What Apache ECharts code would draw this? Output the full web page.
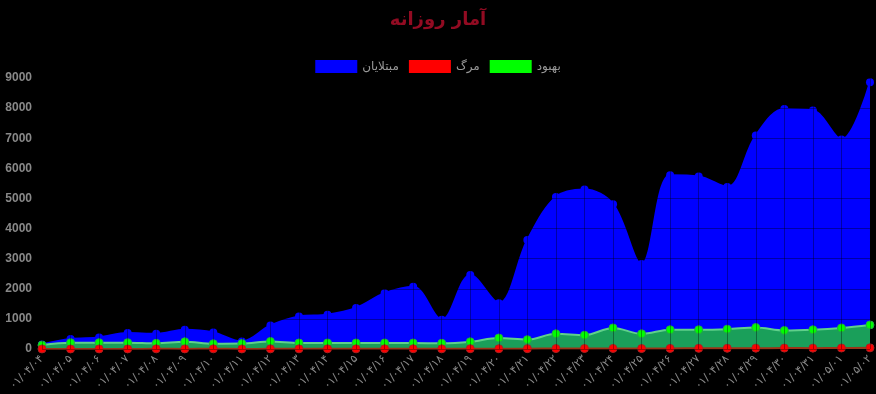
<!DOCTYPE html>
<html>
<head>
<meta charset="utf-8">
<script src="https://cdn.jsdelivr.net/npm/echarts@6/dist/echarts.min.js"></script>
<style>
html,body{margin:0;padding:0;background:#000;}
#c{width:876px;height:394px;}
</style>
</head>
<body>
<div id="c"></div>
<script>
const categories = [
  '۰۱/۰۴/۰۴','۰۱/۰۴/۰۵','۰۱/۰۴/۰۶','۰۱/۰۴/۰۷','۰۱/۰۴/۰۸','۰۱/۰۴/۰۹','۰۱/۰۴/۱۰','۰۱/۰۴/۱۱',
  '۰۱/۰۴/۱۲','۰۱/۰۴/۱۳','۰۱/۰۴/۱۴','۰۱/۰۴/۱۵','۰۱/۰۴/۱۶','۰۱/۰۴/۱۷','۰۱/۰۴/۱۸','۰۱/۰۴/۱۹',
  '۰۱/۰۴/۲۰','۰۱/۰۴/۲۱','۰۱/۰۴/۲۲','۰۱/۰۴/۲۳','۰۱/۰۴/۲۴','۰۱/۰۴/۲۵','۰۱/۰۴/۲۶','۰۱/۰۴/۲۷',
  '۰۱/۰۴/۲۸','۰۱/۰۴/۲۹','۰۱/۰۴/۳۰','۰۱/۰۴/۳۱','۰۱/۰۵/۰۱','۰۱/۰۵/۰۲'
];
const cases = [150,330,385,530,505,640,550,250,780,1080,1135,1360,1850,2070,970,2460,1520,3620,5050,5300,4810,2820,5770,5730,5380,7090,7970,7920,6960,8860];
const deaths = [3,2,4,3,5,4,6,3,5,6,7,5,8,9,6,10,9,12,14,16,18,15,20,22,24,27,30,29,33,38];
const recovered = [130,210,210,210,190,240,175,180,250,200,200,200,200,200,190,240,365,310,505,460,700,505,640,640,660,715,615,640,700,800];
const yTicks = {min:0, max:9000, interval:1000};
const names = {cases:'مبتلایان', deaths:'مرگ', recovered:'بهبود'};

const chart = echarts.init(document.getElementById('c'));
chart.setOption({
  backgroundColor:'#000',
  animation:false,
  title:{
    text:'آمار روزانه', left:'center', top:6,
    textStyle:{color:'#920b22', fontSize:18, fontWeight:'bold', fontFamily:'DejaVu Sans'}
  },
  legend:{
    top:55, left:'center', icon:'rect', itemWidth:42, itemHeight:13, itemGap:10,
    textStyle:{color:'#999', fontSize:12, fontFamily:'DejaVu Sans'},
    data:[
      {name:names.cases, itemStyle:{color:'#0000ff', borderWidth:0}},
      {name:names.deaths, itemStyle:{color:'#ff0000', borderWidth:0}},
      {name:names.recovered, itemStyle:{color:'#00ff00', borderWidth:0}}
    ]
  },
  grid:{left:42, right:2, top:78, bottom:45, containLabel:false},
  xAxis:{
    type:'category', data:categories, boundaryGap:false, z:10,
    axisLine:{show:false}, axisTick:{show:false},
    axisLabel:{rotate:45, color:'#888', fontSize:11, margin:8, fontFamily:'DejaVu Sans', interval:0},
    splitLine:{show:true, lineStyle:{color:'rgba(0,0,0,0.35)', width:1}}
  },
  yAxis:{
    type:'value', min:yTicks.min, max:yTicks.max, interval:yTicks.interval, z:10,
    axisLine:{show:false}, axisTick:{show:false},
    axisLabel:{color:'#888', fontSize:12, fontWeight:'bold', margin:10, fontFamily:'Liberation Sans',
      formatter:function(v){return String(v);}},
    splitLine:{show:true, lineStyle:{color:'rgba(0,0,0,0.35)', width:1}}
  },
  series:[
    {
      name:names.cases, type:'line', data:cases, smooth:0.35, z:2,
      symbol:'circle', symbolSize:8, showSymbol:true,
      itemStyle:{color:'#0000ff', borderColor:'#0000ff', borderWidth:0},
      lineStyle:{color:'#0000ff', width:2},
      areaStyle:{color:'#0000ff', opacity:1}
    },
    {
      name:names.recovered, type:'line', data:recovered, smooth:0.35, z:3,
      symbol:'circle', symbolSize:8, showSymbol:true,
      itemStyle:{color:'#00ff00', borderColor:'#22aa44', borderWidth:1},
      lineStyle:{color:'#5fd08a', width:2},
      areaStyle:{color:'#1a9f5a', opacity:1}
    },
    {
      name:names.deaths, type:'line', data:deaths, smooth:0.35, z:4,
      symbol:'circle', symbolSize:8, showSymbol:true,
      itemStyle:{color:'#ff0000', borderColor:'#aa2222', borderWidth:1},
      lineStyle:{color:'#9a3418', width:2},
      areaStyle:{color:'#9a3418', opacity:1}
    }
  ]
});
</script>
</body>
</html>
